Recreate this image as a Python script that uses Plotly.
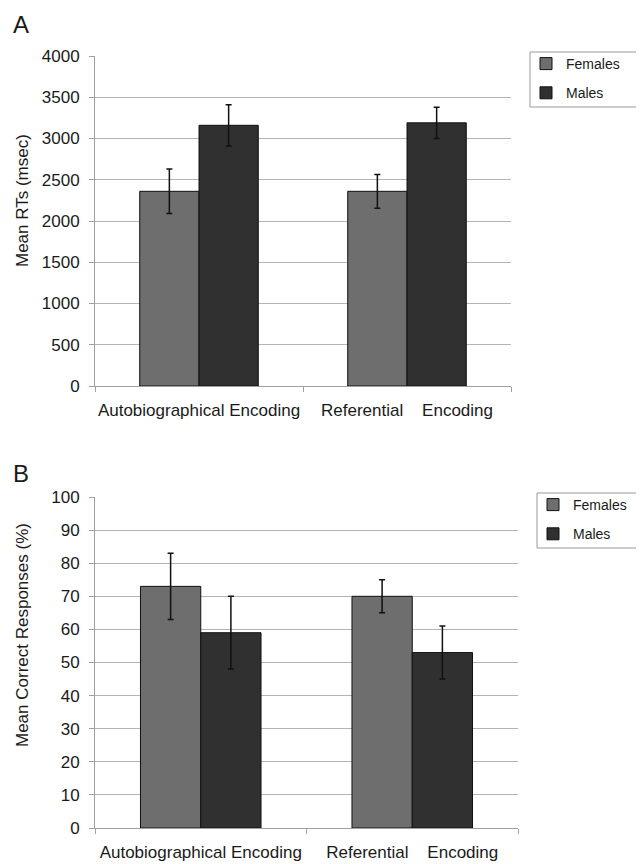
import plotly.graph_objects as go

# ---- data ----
categories = ["Autobiographical Encoding", "Referential\u00a0\u00a0\u00a0 Encoding"]
series_names = ["Females", "Males"]

rt_females = [2360, 2360]
rt_females_err = [270, 205]
rt_males = [3160, 3190]
rt_males_err = [250, 190]

acc_females = [73, 70]
acc_females_err = [10, 5]
acc_males = [59, 53]
acc_males_err = [11, 8]

rt_ticks = [0, 500, 1000, 1500, 2000, 2500, 3000, 3500, 4000]
acc_ticks = [0, 10, 20, 30, 40, 50, 60, 70, 80, 90, 100]

# ---- style ----
OFF = 8  # page body margin
W, H = 644 - OFF, 864 - OFF
FONT = "Liberation Sans, Arial, sans-serif"
TXT = "#1a1a1a"
C_F = "#6e6e6e"
C_M = "#303030"
GRID = "#b4b4b4"
AXL = "#a0a0a0"


def px_x(p):
    return (p - OFF) / W


def px_y(p):
    return 1 - (p - OFF) / H


fig = go.Figure()


def add_bar(name, xaxis, yaxis, vals, errs, color, legend, group):
    fig.add_trace(go.Bar(
        x=categories, y=vals, name=name, xaxis=xaxis, yaxis=yaxis,
        marker=dict(color=color, line=dict(color="#111111", width=1)),
        error_y=dict(type="data", array=errs, visible=True, color="#111111",
                     thickness=1.5, width=3),
        legend=legend, legendgroup=group,
    ))


add_bar(series_names[0], "x", "y", rt_females, rt_females_err, C_F, "legend", "a_f")
add_bar(series_names[1], "x", "y", rt_males, rt_males_err, C_M, "legend", "a_m")
add_bar(series_names[0], "x2", "y2", acc_females, acc_females_err, C_F, "legend2", "b_f")
add_bar(series_names[1], "x2", "y2", acc_males, acc_males_err, C_M, "legend2", "b_m")

xcommon = dict(
    type="category", showgrid=False, showline=True, linecolor=AXL, linewidth=1,
    ticks="outside", tickson="boundaries", ticklen=5, tickcolor=AXL,
    tickfont=dict(family=FONT, size=17, color=TXT), ticklabelstandoff=9,
    zeroline=False, tickangle=0, automargin=False,
)
ycommon = dict(
    showgrid=True, gridcolor=GRID, gridwidth=1, showline=True, linecolor=AXL,
    linewidth=1, ticks="outside", ticklen=5, tickcolor=AXL, zeroline=False,
    tickfont=dict(family=FONT, size=17, color=TXT), ticklabelstandoff=6,
    automargin=False,
)

legcommon = dict(
    bgcolor="rgba(0,0,0,0)", borderwidth=0,
    font=dict(family=FONT, size=14, color=TXT), xanchor="left", yanchor="top",
    traceorder="grouped", tracegroupgap=8, itemclick=False,
)


def box(x0, y0, x1, y1):
    return dict(type="rect", xref="paper", yref="paper",
                x0=px_x(x0), x1=px_x(x1), y0=px_y(y1), y1=px_y(y0),
                line=dict(color="#999999", width=1), fillcolor="rgba(0,0,0,0)",
                layer="below")


fig.update_layout(
    width=W, height=H,
    margin=dict(l=0, r=0, t=0, b=0, autoexpand=False),
    paper_bgcolor="white", plot_bgcolor="white",
    barmode="group", bargap=0.43, bargroupgap=0,
    showlegend=True,
    xaxis=dict(domain=[px_x(95), px_x(511)], anchor="y", **xcommon),
    yaxis=dict(domain=[px_y(386), px_y(56)], anchor="x", range=[0, 4000],
               tickvals=rt_ticks, **ycommon),
    xaxis2=dict(domain=[px_x(95), px_x(518)], anchor="y2", **xcommon),
    yaxis2=dict(domain=[px_y(828), px_y(497)], anchor="x2", range=[0, 100],
                tickvals=acc_ticks, **ycommon),
    legend=dict(x=px_x(526), y=px_y(48), **legcommon),
    legend2=dict(x=px_x(533), y=px_y(489), **legcommon),
    shapes=[box(530, 52, 643, 107), box(537, 493, 643.5, 548)],
    annotations=[
        dict(text="A", x=px_x(11), y=px_y(25), xref="paper", yref="paper",
             xanchor="left", yanchor="middle", showarrow=False,
             font=dict(family=FONT, size=24, color=TXT)),
        dict(text="B", x=px_x(11), y=px_y(473), xref="paper", yref="paper",
             xanchor="left", yanchor="middle", showarrow=False,
             font=dict(family=FONT, size=24, color=TXT)),
        dict(text="Mean RTs (msec)", x=px_x(22), y=px_y(201), xref="paper",
             yref="paper", xanchor="center", yanchor="middle", textangle=-90,
             showarrow=False, font=dict(family=FONT, size=17, color=TXT)),
        dict(text="Mean Correct Responses (%)", x=px_x(22), y=px_y(635),
             xref="paper", yref="paper", xanchor="center", yanchor="middle",
             textangle=-90, showarrow=False,
             font=dict(family=FONT, size=17, color=TXT)),
    ],
)

fig.write_html("out.html")
